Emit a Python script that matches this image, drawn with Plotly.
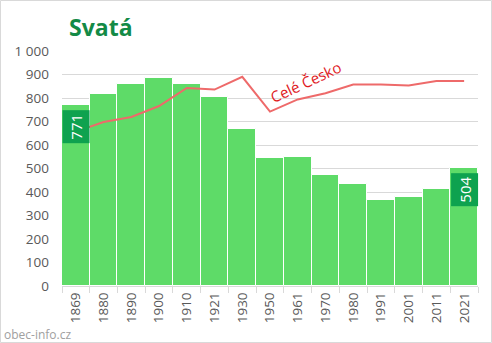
import plotly.graph_objects as go

years = ["1869", "1880", "1890", "1900", "1910", "1921", "1930", "1950",
         "1961", "1970", "1980", "1991", "2001", "2011", "2021"]
population = [771, 817, 861, 886, 860, 803, 668, 545, 549, 472, 434, 366, 379, 411, 504]
czechia_scaled = [657, 698, 719, 766, 843, 836, 890, 742, 794, 820, 857, 857, 853, 872, 872]
ytick_vals = [0, 100, 200, 300, 400, 500, 600, 700, 800, 900, 1000]
ytick_text = ["0", "100", "200", "300", "400", "500", "600", "700", "800", "900", "1 000"]
labelled = ["1869", "2021"]

W, H = 492, 343
L, R, T, B = 62, 14, 51, 57
pw, ph = W - L - R, H - T - B

fig = go.Figure()
fig.add_trace(go.Bar(
    x=years, y=population,
    marker=dict(color="#5EDB68", line=dict(color="white", width=1)),
    width=1.0, hoverinfo="x+y",
))
fig.add_trace(go.Scatter(
    x=years, y=czechia_scaled, mode="lines",
    line=dict(color="#EE6A6A", width=2),
))

annotations = []
for i, (yr, v) in enumerate(zip(years, population)):
    if yr in labelled:
        annotations.append(dict(
            x=i, y=v, xref="x", yref="y", text=str(v), showarrow=False,
            textangle=-90, font=dict(family="Open Sans", size=15, color="white"),
            bgcolor="#0EA24F", borderpad=3, xanchor="center", yanchor="top",
            yshift=-5,
        ))

annotations.append(dict(
    x=(67 - L) / pw, y=(H - B - 27) / ph, xref="paper", yref="paper",
    text="<b>Svatá</b>", showarrow=False, xanchor="left", yanchor="middle",
    font=dict(family="Open Sans", size=23, color="#138A46"),
))
annotations.append(dict(
    x=(2 - L) / pw, y=(H - B - 334) / ph, xref="paper", yref="paper",
    text="obec-info.cz", showarrow=False, xanchor="left", yanchor="middle",
    font=dict(family="Open Sans", size=12, color="#A0A0A0"),
))
annotations.append(dict(
    x=8.28, y=866, xref="x", yref="y", text="Celé Česko", showarrow=False,
    textangle=-25, font=dict(family="Open Sans", size=15, color="#E0191E"),
))

fig.update_layout(
    width=W, height=H,
    margin=dict(l=L, r=R, t=T, b=B),
    paper_bgcolor="white", plot_bgcolor="white",
    showlegend=False, bargap=0,
    annotations=annotations,
    shapes=[dict(type="rect", xref="paper", yref="paper",
                 x0=(0.5 - L) / pw, x1=(W - 0.5 - L) / pw,
                 y0=(H - B - H + 0.5) / ph, y1=(H - B - 0.5) / ph,
                 line=dict(color="#D9D9D9", width=1), layer="below")],
    xaxis=dict(
        type="category", tickson="boundaries", ticks="outside", ticklen=6,
        tickcolor="#D9D9D9", showline=True, linecolor="#D9D9D9",
        tickangle=-90, tickfont=dict(family="Open Sans", size=13.5, color="#595959"),
        showgrid=False, range=[-0.5, len(years) - 0.5],
    ),
    yaxis=dict(
        range=[0, 1000], tickvals=ytick_vals, ticktext=ytick_text,
        showgrid=True, gridcolor="#D9D9D9", gridwidth=1, zeroline=False,
        tickfont=dict(family="Open Sans", size=13.5, color="#595959"),
        ticklabelstandoff=12,
    ),
)

fig.write_html("out.html")
